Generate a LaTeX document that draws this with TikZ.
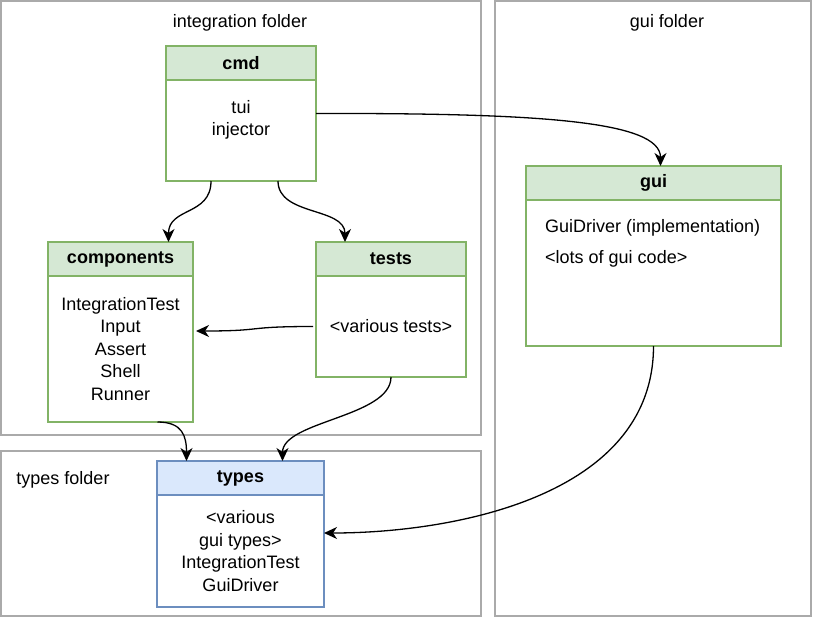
\documentclass[tikz,border=0pt]{standalone}
\usepackage{fontspec}
\setmainfont{Liberation Sans}
\usetikzlibrary{arrows.meta,positioning}
\definecolor{greenfill}{HTML}{D5E8D4}
\definecolor{greenline}{HTML}{82B366}
\definecolor{bluefill}{HTML}{DAE8FC}
\definecolor{blueline}{HTML}{6C8EBF}
\definecolor{foldgray}{RGB}{170,170,170}

\begin{document}
\begin{tikzpicture}[x=1pt, y=-1pt,
	every node/.style={font=\fontsize{18}{22.5}\selectfont},
	folder/.style={rectangle, draw=foldgray, line width=1.5pt, anchor=north west, inner sep=0pt, outer sep=0pt},
	head/.style={rectangle, draw=greenline, fill=greenfill, line width=1.5pt, font=\fontsize{18}{22.5}\selectfont\bfseries, inner sep=0pt, outer sep=0pt, minimum height=34pt},
	body/.style={rectangle, draw=greenline, line width=1.5pt, align=center, inner sep=0pt, outer sep=0pt},
	link/.style={-{Stealth[length=13pt,width=12pt,inset=4pt]}, line width=1.3pt}]
					\useasboundingbox (0,0) rectangle (813,618);

					\node[folder, minimum width=480pt, minimum height=434pt] (f1) at (1,1) {};
					\node[folder, minimum width=480pt, minimum height=165pt] (f2) at (1,451) {};
					\node[folder, minimum width=316pt, minimum height=615pt] (f3) at (495,1) {};
					\node (f1l) at (240,23) {integration folder};
					\node (f2l) at (63,480) {types folder};
					\node (f3l) at (667,23) {gui folder};

					\node[head, minimum width=150pt] (cmd) at (241,63) {cmd};
					\node[body, minimum width=150pt, minimum height=101pt, below=0pt of cmd] (cmdb) {};
					\node[align=center] (cmdt) at ([yshift=-40pt]cmd.south) {tui\\injector};

					\node[head, minimum width=145pt] (comp) at (120.5,259) {components};
					\node[body, minimum width=145pt, minimum height=146pt, below=0pt of comp] (compb) {IntegrationTest\\Input\\Assert\\Shell\\Runner};

					\node[head, minimum width=150pt] (tests) at (391,259) {tests};
					\node[body, minimum width=150pt, minimum height=101pt, below=0pt of tests] (testsb) {<various tests>};

					\node[head, draw=blueline, fill=bluefill, minimum width=167pt] (types) at (240.5,478) {types};
					\node[body, draw=blueline, minimum width=167pt, minimum height=112pt, below=0pt of types] (typesb) {<various\\gui types>\\IntegrationTest\\GuiDriver};

					\node[head, minimum width=255pt] (gui) at (653.5,183) {gui};
					\node[body, minimum width=255pt, minimum height=146pt, below=0pt of gui] (guib) {};
					\node[anchor=north west, align=left, inner sep=0pt] (guit) at ([xshift=19pt,yshift=-19pt]gui.south west) {GuiDriver (implementation)\\[8.5pt]<lots of gui code>};

					\draw[link] ([yshift=17pt]cmdb.east) .. controls (540,113) and ([xshift=7pt,yshift=45pt]gui.north) .. ([xshift=7pt]gui.north);
					\draw[link] ([xshift=-30pt]cmdb.south) .. controls +(0,35) and +(0,-35) .. ([xshift=48pt]comp.north);
					\draw[link] ([xshift=37pt]cmdb.south) .. controls +(0,35) and +(0,-35) .. ([xshift=-46pt]tests.north);
					\draw[link] ([xshift=-3pt]testsb.west) .. controls +(-70,0) and +(70,0) .. ([yshift=18pt,xshift=3pt]compb.east);
					\draw[link] ([xshift=37pt]compb.south) .. controls +(25,0) and +(0,-25) .. ([xshift=-54pt]types.north);
					\draw[link] (testsb.south) .. controls +(0,40) and +(0,-40) .. ([xshift=42pt]types.north);
					\draw[link] (guib.south) .. controls +(0,150) and +(130,0) .. ([yshift=18pt]typesb.east);
				\end{tikzpicture}
\end{document}
